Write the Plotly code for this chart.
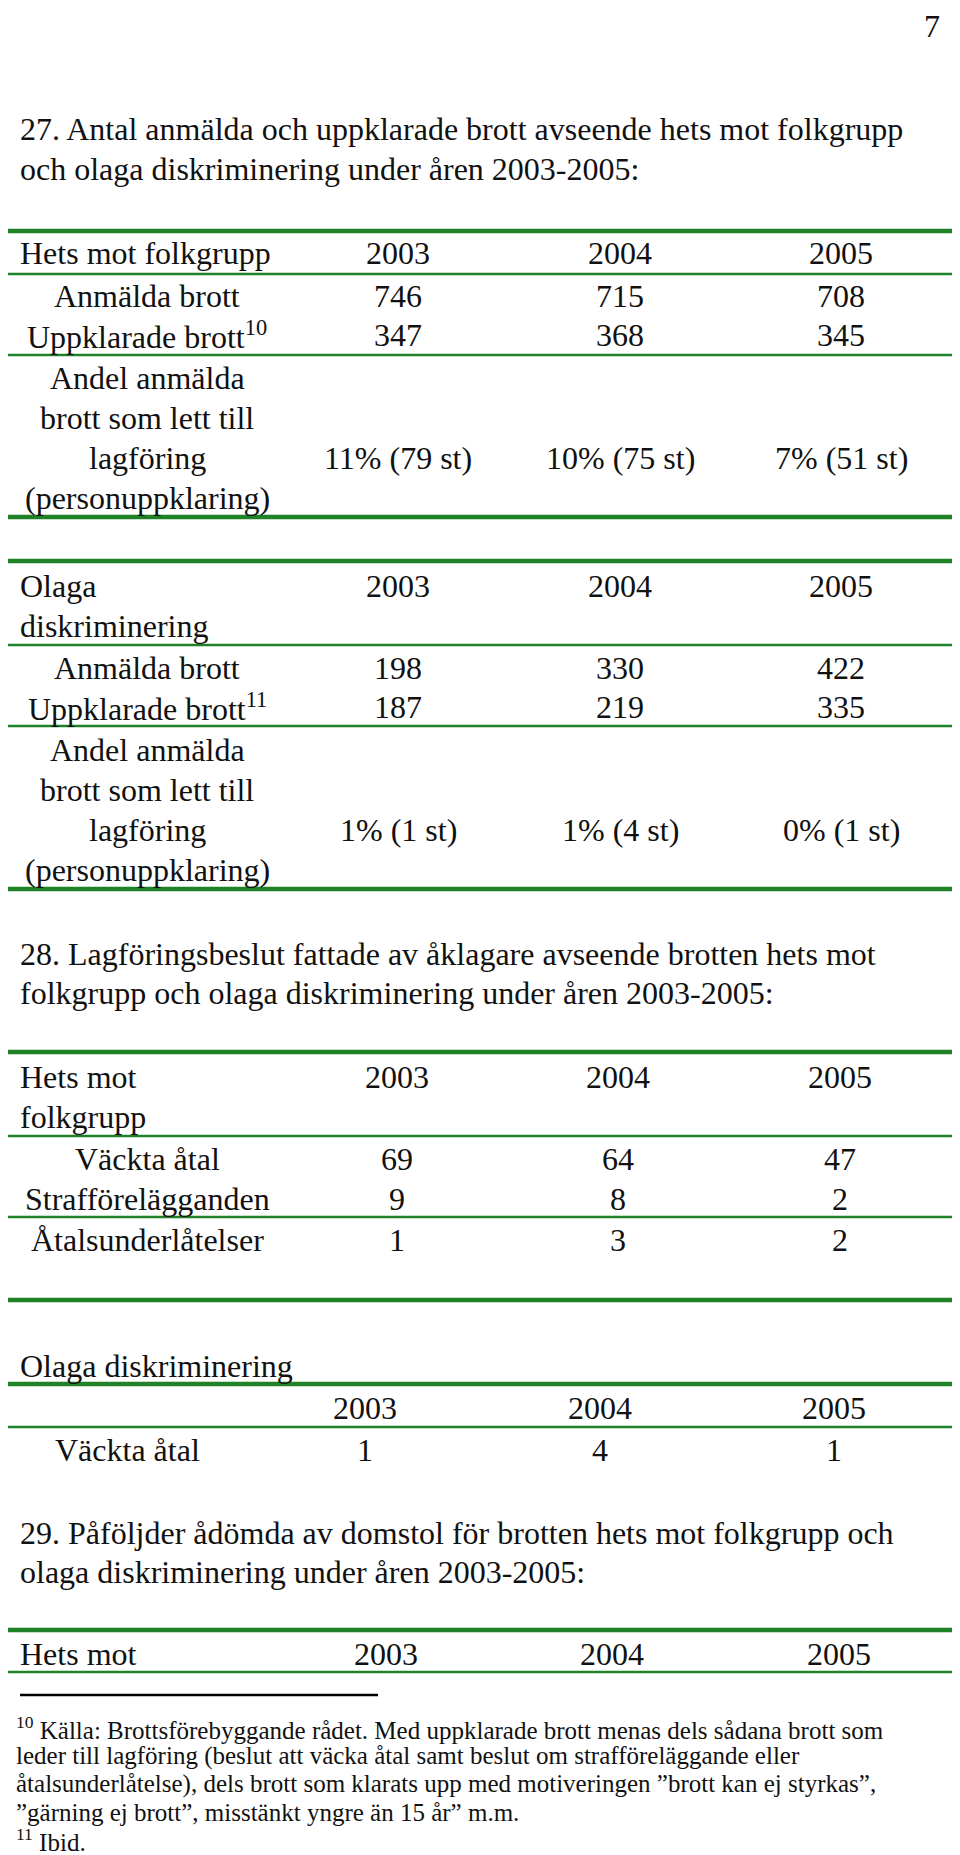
import plotly.graph_objects as go

# --- data read from the page ---
years = ["2003", "2004", "2005"]

hets_anmalda = [746, 715, 708]
hets_uppklarade = [347, 368, 345]
hets_andel_pct = [11, 10, 7]
hets_andel_st = [79, 75, 51]

olaga_anmalda = [198, 330, 422]
olaga_uppklarade = [187, 219, 335]
olaga_andel_pct = [1, 1, 0]
olaga_andel_st = [1, 4, 1]

hets_vackta_atal = [69, 64, 47]
hets_strafforelagg = [9, 8, 2]
hets_atalsunderlat = [1, 3, 2]

olaga_vackta_atal = [1, 4, 1]

andel_label = ["Andel anmälda", "brott som lett till", "lagföring", "(personuppklaring)"]

title_27 = ["27. Antal anmälda och uppklarade brott avseende hets mot folkgrupp",
            "och olaga diskriminering under åren 2003-2005:"]
title_28 = ["28. Lagföringsbeslut fattade av åklagare avseende brotten hets mot",
            "folkgrupp och olaga diskriminering under åren 2003-2005:"]
title_29 = ["29. Påföljder ådömda av domstol för brotten hets mot folkgrupp och",
            "olaga diskriminering under åren 2003-2005:"]
footnotes = ["<sup>10</sup> Källa: Brottsförebyggande rådet. Med uppklarade brott menas dels sådana brott som",
             "leder till lagföring (beslut att väcka åtal samt beslut om strafföreläggande eller",
             "åtalsunderlåtelse), dels brott som klarats upp med motiveringen \u201dbrott kan ej styrkas\u201d,",
             "\u201dgärning ej brott\u201d, misstänkt yngre än 15 år\u201d m.m.",
             "<sup>11</sup> Ibid."]

# --- styling ---
W, H = 960, 1855
PAGE_OFF = 8  # html body margin, shift the axes so page coords == screen coords
GREEN = "#1f8226"
FONT = "Liberation Serif"
FS = 32
FS_NOTE = 25
X0, X1 = 5, 952
LEFT = 18
LABEL_C = 147
COLS = [398, 620, 841]

annotations = []
shapes = []


def txt(x, y, s, anchor="center", size=FS):
    annotations.append(dict(x=x, y=y, text=s, xref="x", yref="y", showarrow=False,
                            xanchor=anchor, yanchor="middle",
                            font=dict(family=FONT, size=size, color="#111111")))


def rule(y, thick=True, x0=X0, x1=X1, color=GREEN):
    shapes.append(dict(type="line", xref="x", yref="y", x0=x0, x1=x1, y0=y, y1=y,
                       line=dict(color=color, width=4.5 if thick else 2.5)))


def row(y, label, values, cols=COLS, label_x=LABEL_C, anchor="center"):
    txt(label_x, y, label, anchor)
    for c, v in zip(cols, values):
        txt(c, y, str(v))


# page number
txt(932, 26, "7")

# --- 27 ---
txt(LEFT, 129, title_27[0], "left")
txt(LEFT, 169, title_27[1], "left")

rule(231)
row(253, "Hets mot folkgrupp", years, label_x=LEFT, anchor="left")
rule(274, False)
row(296, "Anmälda brott", hets_anmalda)
row(335, "Uppklarade brott<sup>10</sup>", hets_uppklarade)
rule(355, False)
for i, s in enumerate(andel_label):
    txt(LABEL_C, 378 + 40 * i, s)
for c, p, n in zip(COLS, hets_andel_pct, hets_andel_st):
    txt(c, 458, f"{p}% ({n} st)")
rule(517)

rule(561)
row(586, "Olaga", years, label_x=LEFT, anchor="left")
txt(LEFT, 626, "diskriminering", "left")
rule(645, False)
row(668, "Anmälda brott", olaga_anmalda)
row(707, "Uppklarade brott<sup>11</sup>", olaga_uppklarade)
rule(726, False)
for i, s in enumerate(andel_label):
    txt(LABEL_C, 750 + 40 * i, s)
for c, p, n in zip(COLS, olaga_andel_pct, olaga_andel_st):
    txt(c, 830, f"{p}% ({n} st)")
rule(889)

# --- 28 ---
txt(LEFT, 954, title_28[0], "left")
txt(LEFT, 993, title_28[1], "left")

cols28 = [397, 618, 840]
rule(1052)
row(1077, "Hets mot", years, cols=cols28, label_x=LEFT, anchor="left")
txt(LEFT, 1117, "folkgrupp", "left")
rule(1136, False)
row(1159, "Väckta åtal", hets_vackta_atal, cols=cols28)
row(1199, "Strafförelägganden", hets_strafforelagg, cols=cols28)
rule(1217, False)
row(1240, "Åtalsunderlåtelser", hets_atalsunderlat, cols=cols28)
rule(1300)

cols28b = [365, 600, 834]
txt(LEFT, 1366, "Olaga diskriminering", "left")
rule(1384)
for c, y in zip(cols28b, years):
    txt(c, 1408, y)
rule(1427, False)
row(1450, "Väckta åtal", olaga_vackta_atal, cols=cols28b, label_x=127)

# --- 29 ---
txt(LEFT, 1533, title_29[0], "left")
txt(LEFT, 1572, title_29[1], "left")

cols29 = [386, 612, 839]
rule(1630)
row(1654, "Hets mot", years, cols=cols29, label_x=LEFT, anchor="left")
rule(1672, False)

# footnotes
rule(1695, False, x0=20, x1=378, color="#000000")
for i, s in enumerate(footnotes):
    txt(14, 1728 + 28 * i, s, "left", size=FS_NOTE)

fig = go.Figure()
fig.add_trace(go.Scatter(x=[PAGE_OFF, W], y=[PAGE_OFF, H], mode="markers", marker=dict(opacity=0),
                         hoverinfo="skip", showlegend=False))
fig.update_layout(
    width=W, height=H,
    margin=dict(l=0, r=0, t=0, b=0),
    paper_bgcolor="white", plot_bgcolor="white",
    xaxis=dict(range=[PAGE_OFF, W + PAGE_OFF], visible=False, fixedrange=True),
    yaxis=dict(range=[H + PAGE_OFF, PAGE_OFF], visible=False, fixedrange=True),
    annotations=annotations,
    shapes=shapes,
    showlegend=False,
)
fig.write_html("out.html")
